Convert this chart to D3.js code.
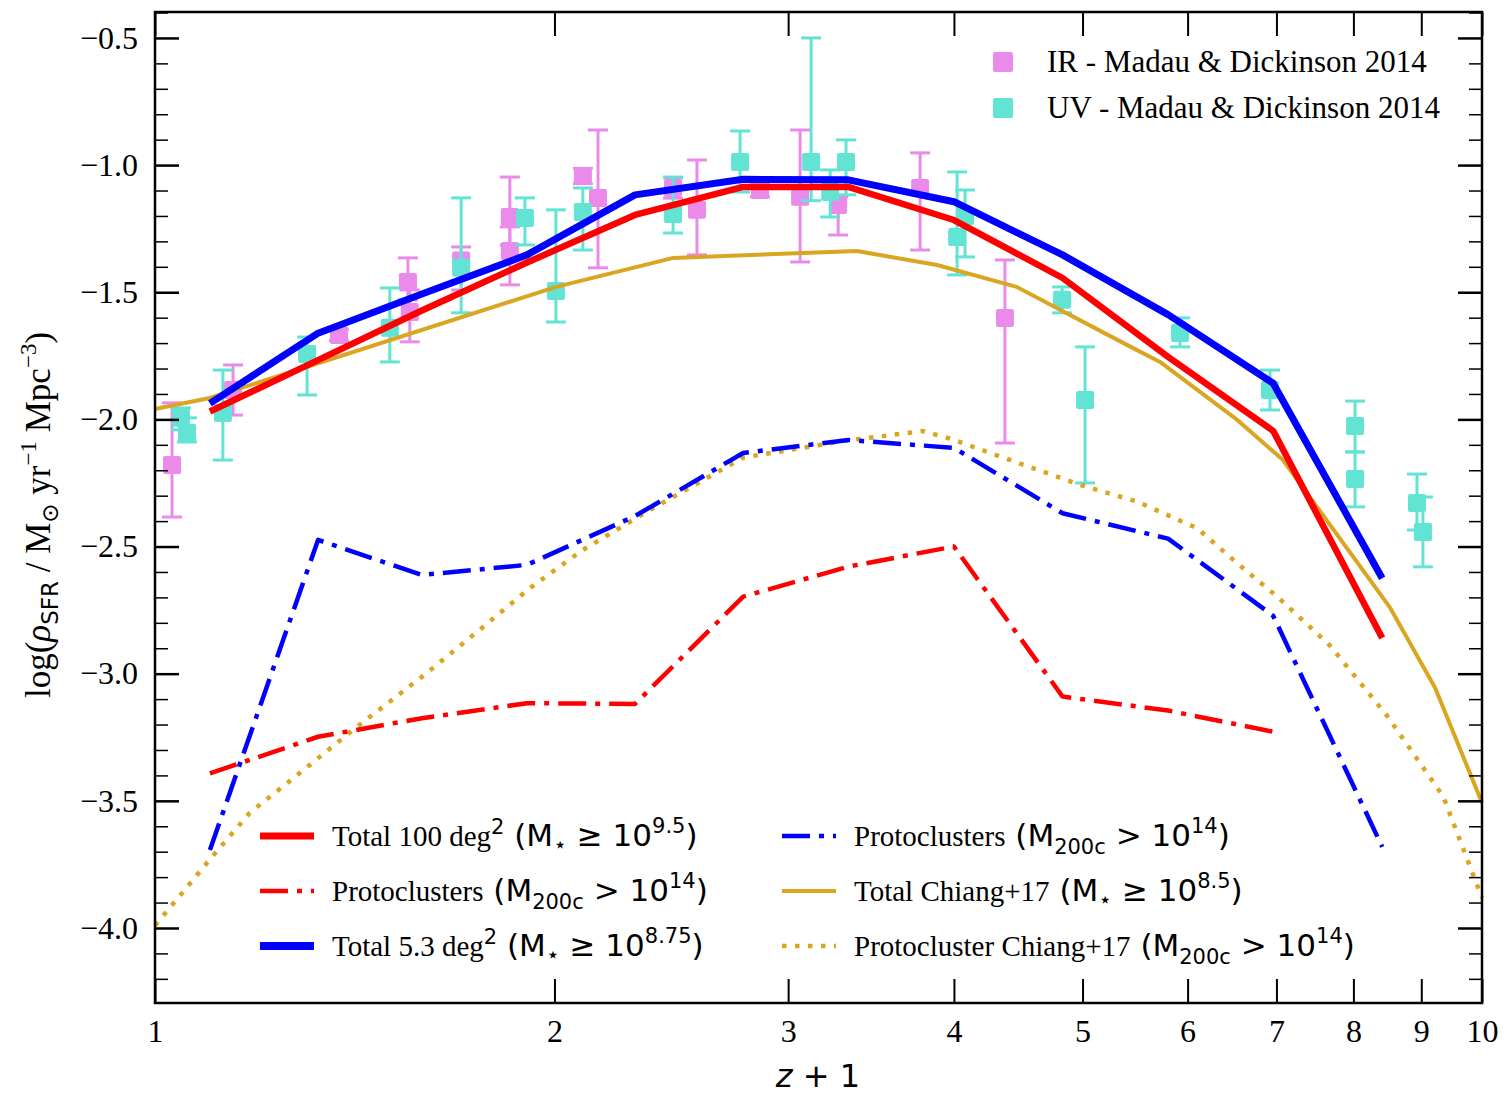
<!DOCTYPE html>
<html><head><meta charset="utf-8">
<script src="https://cdn.jsdelivr.net/npm/d3@7"></script>
<style>body{margin:0;background:#fff}</style>
</head><body><svg id="c" width="1506" height="1094"></svg>
<script>
// ---------------- DATA ----------------
const snapX      = [1.10, 1.327, 1.589, 1.907, 2.30, 2.775, 3.33, 4.0, 4.83, 5.80, 6.96, 8.41];
const total100   = [-1.969, -1.767, -1.572, -1.383, -1.196, -1.086, -1.086, -1.216, -1.444, -1.754, -2.045, -2.860];
const total53    = [-1.937, -1.661, -1.507, -1.353, -1.117, -1.056, -1.058, -1.144, -1.353, -1.588, -1.858, -2.625];
const protoRedX  = [1.10, 1.327, 1.589, 1.907, 2.30, 2.775, 3.33, 4.0, 4.83, 5.80, 6.96];
const protoRed   = [-3.392, -3.248, -3.175, -3.116, -3.119, -2.697, -2.579, -2.500, -3.090, -3.145, -3.228];
const protoBlue  = [-3.693, -2.474, -2.612, -2.572, -2.380, -2.132, -2.081, -2.112, -2.369, -2.469, -2.772, -3.681];
const chiangX    = [1.0, 1.10, 2.006, 2.458, 3.38, 3.885, 4.46, 5.40, 5.72, 6.54, 7.08, 8.52, 9.22, 10.0];
const chiangTot  = [-1.959, -1.916, -1.479, -1.365, -1.338, -1.393, -1.479, -1.707, -1.774, -2.002, -2.160, -2.738, -3.056, -3.508];
const chiangPX   = [1.0, 1.05, 1.104, 1.179, 1.286, 1.41, 1.603, 1.767, 1.917, 2.10, 2.36, 2.457, 2.775, 3.323, 3.79, 3.97, 4.64, 5.0, 5.5, 6.1, 6.54, 7.01, 7.68, 8.48, 9.35, 10.0];
const chiangProt = [-3.99, -3.858, -3.720, -3.547, -3.390, -3.221, -2.997, -2.816, -2.663, -2.514, -2.356, -2.305, -2.150, -2.083, -2.046, -2.075, -2.201, -2.260, -2.324, -2.428, -2.566, -2.697, -2.889, -3.165, -3.483, -3.882];

const irX  = [1.030, 1.145, 1.376, 1.551, 1.556, 1.701, 1.851, 1.851, 2.101, 2.157, 2.457, 2.561, 2.857, 3.063, 3.272, 3.772, 4.370];
const irY  = [-2.179, -1.884, -1.668, -1.460, -1.578, -1.375, -1.204, -1.338, -1.043, -1.129, -1.090, -1.176, -1.098, -1.125, -1.157, -1.090, -1.601];
const irLo = [-2.384, -1.983, -1.690, -1.530, -1.695, -1.491, -1.314, -1.471, -1.073, -1.404, -1.130, -1.353, -1.125, -1.381, -1.275, -1.334, -2.093];
const irHi = [-1.935, -1.786, -1.646, -1.365, -1.491, -1.322, -1.047, -1.243, -1.013, -0.862, -1.050, -0.980, -1.070, -0.862, -1.125, -0.952, -1.373];

const uvX  = [1.046, 1.057, 1.125, 1.302, 1.503, 1.701, 1.900, 2.005, 2.101, 2.457, 2.760, 3.122, 3.227, 3.317, 4.022, 4.078, 4.826, 5.022, 5.922, 6.922, 8.023, 8.023, 8.933, 9.026];
const uvY  = [-1.994, -2.053, -1.975, -1.743, -1.640, -1.404, -1.208, -1.495, -1.184, -1.192, -0.988, -0.988, -1.106, -0.988, -1.283, -1.200, -1.530, -1.924, -1.660, -1.884, -2.026, -2.234, -2.329, -2.443];
const uvLo = [-2.041, -2.089, -2.160, -1.904, -1.774, -1.581, -1.314, -1.617, -1.334, -1.267, -1.106, -1.140, -1.204, -1.117, -1.432, -1.361, -1.581, -2.250, -1.715, -1.963, -2.128, -2.344, -2.435, -2.580];
const uvHi = [-1.955, -1.994, -1.806, -1.676, -1.483, -1.129, -1.129, -1.176, -1.090, -1.047, -0.866, -0.500, -1.019, -0.901, -1.027, -1.098, -1.479, -1.715, -1.601, -1.806, -1.928, -2.128, -2.215, -2.305];

const xTicks = [1, 2, 3, 4, 5, 6, 7, 8, 9, 10];
const yTicks = [-0.5, -1.0, -1.5, -2.0, -2.5, -3.0, -3.5, -4.0];

// ---------------- LAYOUT ----------------
const L = 155, R = 1482, T = 12, B = 1003;
const svg = d3.select("#c");
const x = d3.scaleLog().domain([1, 10]).range([L, R]);
const y = d3.scaleLinear().domain([-4.295, -0.398]).range([B, T]);
const SERIF = "'Liberation Serif','Times New Roman',serif";
const SANS = "'DejaVu Sans',sans-serif";

const IRC = "#ea8aea", UVC = "#62e4d4";

// data points
function drawPoints(xs, ys, lo, hi, col) {
  const g = svg.append("g");
  xs.forEach((xv, i) => {
    const px = x(xv);
    g.append("line").attr("x1", px).attr("x2", px).attr("y1", y(lo[i])).attr("y2", y(hi[i]))
      .attr("stroke", col).attr("stroke-width", 3);
    [lo[i], hi[i]].forEach(v => g.append("line").attr("x1", px - 10).attr("x2", px + 10)
      .attr("y1", y(v)).attr("y2", y(v)).attr("stroke", col).attr("stroke-width", 3));
    g.append("rect").attr("x", px - 9).attr("y", y(ys[i]) - 9).attr("width", 18).attr("height", 18)
      .attr("rx", 2).attr("fill", col);
  });
}
drawPoints(irX, irY, irLo, irHi, IRC);
drawPoints(uvX, uvY, uvLo, uvHi, UVC);

// lines
const line = d3.line().x(d => x(d[0])).y(d => y(d[1]));
function drawLine(xs, ys, col, w, dash) {
  svg.append("path").datum(xs.map((v, i) => [v, ys[i]])).attr("d", line)
    .attr("fill", "none").attr("stroke", col).attr("stroke-width", w)
    .attr("stroke-dasharray", dash || null).attr("stroke-linejoin", "round");
}
const DASHDOT = "28,9,5,9", DOT = "4.5,8.5";
drawLine(chiangPX, chiangProt, "#daa520", 4.5, DOT);
drawLine(chiangX, chiangTot, "#daa520", 4);
drawLine(protoRedX, protoRed, "#ff0000", 4.5, DASHDOT);
drawLine(snapX, protoBlue, "#0000ff", 4.5, DASHDOT);
drawLine(snapX, total100, "#ff0000", 6.5);
drawLine(snapX, total53, "#0000ff", 7);

// ---------------- AXES ----------------
function styleAxis(g, w) {
  g.select(".domain").remove();
  g.selectAll(".tick line").attr("stroke", "#000").attr("stroke-width", w);
  g.selectAll(".tick text").attr("font-family", SERIF).attr("font-size", 32).attr("fill", "#000");
}
const minorY = d3.range(-4.2, -0.39, 0.1).map(v => +v.toFixed(1)).filter(v => Math.abs(v * 2 - Math.round(v * 2)) > 1e-6);
const fmtY = d => (d < 0 ? "\u2212" : "") + Math.abs(d).toFixed(1);

svg.append("g").attr("transform", `translate(${L},0)`)
  .call(d3.axisLeft(y).tickValues(yTicks).tickSize(-24).tickPadding(17).tickFormat(fmtY)).call(g => styleAxis(g, 2.5));
svg.append("g").attr("transform", `translate(${L},0)`)
  .call(d3.axisLeft(y).tickValues(minorY).tickSize(-13).tickFormat("")).call(g => styleAxis(g, 1.5));
svg.append("g").attr("transform", `translate(${R},0)`)
  .call(d3.axisRight(y).tickValues(yTicks).tickSize(-24).tickFormat("")).call(g => styleAxis(g, 2.5));
svg.append("g").attr("transform", `translate(${R},0)`)
  .call(d3.axisRight(y).tickValues(minorY).tickSize(-13).tickFormat("")).call(g => styleAxis(g, 1.5));
svg.append("g").attr("transform", `translate(0,${B})`)
  .call(d3.axisBottom(x).tickValues(xTicks).tickSize(-24).tickPadding(16).tickFormat(d3.format("d"))).call(g => styleAxis(g, 2));
svg.append("g").attr("transform", `translate(0,${T})`)
  .call(d3.axisTop(x).tickValues(xTicks).tickSize(-24).tickFormat("")).call(g => styleAxis(g, 2));

svg.append("rect").attr("x", L).attr("y", T).attr("width", R - L).attr("height", B - T)
  .attr("fill", "none").attr("stroke", "#000").attr("stroke-width", 2.5);

// rich text helper
function rich(sel, parts, base) {
  let cur = 0;
  parts.forEach(p => {
    const shift = p.s || 0;
    sel.append("tspan").attr("dy", shift - cur).attr("font-family", p.f || base.f)
      .attr("font-size", p.z || base.z).attr("font-style", p.i ? "italic" : null).text(p.t);
    cur = shift;
  });
}

// x-axis title
const xt = svg.append("text").attr("x", 818).attr("y", 1087).attr("text-anchor", "middle").attr("fill", "#000");
rich(xt, [{t: "z", i: true}, {t: " + 1"}], {f: SANS, z: 32});

// y-axis title
const yt = svg.append("text").attr("transform", "translate(50,515) rotate(-90)").attr("text-anchor", "middle").attr("fill", "#000");
rich(yt, [
  {t: "log("}, {t: "\u03c1", i: true}, {t: "SFR", f: SANS, z: 23, s: 8}, {t: " / M"},
  {t: "\u2299", f: SANS, z: 23, s: 8}, {t: " yr"}, {t: "\u22121", z: 23, s: -14}, {t: " Mpc"},
  {t: "\u22123", z: 23, s: -14}, {t: ")"}
], {f: SERIF, z: 35});

// ---------------- LEGENDS ----------------
const ptLeg = [["IR - Madau & Dickinson 2014", IRC, 62], ["UV - Madau & Dickinson 2014", UVC, 108]];
ptLeg.forEach(([t, c, cy]) => {
  svg.append("rect").attr("x", 993).attr("y", cy - 10).attr("width", 20).attr("height", 20).attr("rx", 2).attr("fill", c);
  svg.append("text").attr("x", 1047).attr("y", cy + 10).attr("font-family", SERIF).attr("font-size", 31).attr("fill", "#000").text(t);
});

const S = 29, MZ = 31, SS = 21;
function mathParts(pre, op, exp, sub, deg) {
  const arr = [{t: pre}];
  if (deg) arr.push({t: "2", f: SANS, z: SS, s: -12});
  arr.push({t: " (M", f: SANS, z: MZ});
  if (sub) arr.push({t: sub, f: SANS, z: SS, s: 8});
  else arr.push({t: "\u22c6", f: SANS, z: 22, s: 6});
  arr.push({t: " " + op + " 10", f: SANS, z: MZ});
  arr.push({t: exp, f: SANS, z: SS, s: -13});
  arr.push({t: ")", f: SANS, z: MZ});
  return arr;
}
const lineLeg = [
  {x: 260, y: 836, c: "#ff0000", w: 7,   d: null,    parts: mathParts("Total 100 deg", "\u2265", "9.5", null, true)},
  {x: 260, y: 891, c: "#ff0000", w: 4.5, d: DASHDOT, parts: mathParts("Protoclusters", ">", "14", "200c")},
  {x: 260, y: 946, c: "#0000ff", w: 8,   d: null,    parts: mathParts("Total 5.3 deg", "\u2265", "8.75", null, true)},
  {x: 782, y: 836, c: "#0000ff", w: 4.5, d: DASHDOT, parts: mathParts("Protoclusters", ">", "14", "200c")},
  {x: 782, y: 891, c: "#daa520", w: 4,   d: null,    parts: mathParts("Total Chiang+17", "\u2265", "8.5")},
  {x: 782, y: 946, c: "#daa520", w: 4.5, d: DOT,     parts: mathParts("Protocluster Chiang+17", ">", "14", "200c")}
];
lineLeg.forEach(e => {
  svg.append("line").attr("x1", e.x).attr("x2", e.x + 54).attr("y1", e.y).attr("y2", e.y)
    .attr("stroke", e.c).attr("stroke-width", e.w).attr("stroke-dasharray", e.d);
  const t = svg.append("text").attr("x", e.x + 72).attr("y", e.y + 10).attr("fill", "#000");
  rich(t, e.parts, {f: SERIF, z: S});
});
</script></body></html>
